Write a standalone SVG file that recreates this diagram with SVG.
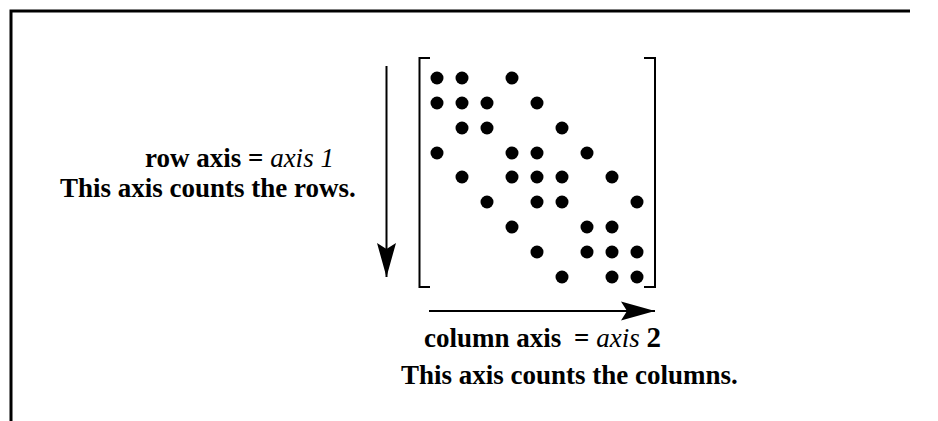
<svg xmlns="http://www.w3.org/2000/svg" width="938" height="421" viewBox="0 0 938 421">
<style>
.t{font-family:"Liberation Serif","Times New Roman",serif;font-size:27px;font-weight:bold;fill:#000}
.i{font-style:italic;font-weight:normal}
.ln{stroke:#000;fill:none}
.d circle{fill:#000;r:6.5px}
</style>
<defs>
<marker id="ah" markerUnits="userSpaceOnUse" markerWidth="36" markerHeight="22" viewBox="0 -11 36 22" refX="34" refY="0" orient="auto">
<path d="M0,-9.5 L34,0 L0,9.5 L6,0 Z" fill="#000"/>
</marker>
</defs>
<rect width="938" height="421" fill="#fff"/>
<g id="frame">
<path class="ln" d="M11,421 L11,11 L910,11" stroke-width="3"/>
</g>
<g id="matrix">
<path class="ln" stroke-width="2" d="M430,58 L419.5,58 L419.5,287 L430,287"/>
<path class="ln" stroke-width="2" d="M644,58 L655,58 L655,287 L644,287"/>
<g class="d">
<circle cx="437" cy="78" r="6.5"/><circle cx="462" cy="78" r="6.5"/><circle cx="512" cy="78" r="6.5"/>
<circle cx="437" cy="103" r="6.5"/><circle cx="462" cy="103" r="6.5"/><circle cx="487" cy="103" r="6.5"/><circle cx="537" cy="103" r="6.5"/>
<circle cx="462" cy="128" r="6.5"/><circle cx="487" cy="128" r="6.5"/><circle cx="562" cy="128" r="6.5"/>
<circle cx="437" cy="153" r="6.5"/><circle cx="512" cy="153" r="6.5"/><circle cx="537" cy="153" r="6.5"/><circle cx="587" cy="153" r="6.5"/>
<circle cx="462" cy="177" r="6.5"/><circle cx="512" cy="177" r="6.5"/><circle cx="537" cy="177" r="6.5"/><circle cx="562" cy="177" r="6.5"/><circle cx="612" cy="177" r="6.5"/>
<circle cx="487" cy="202" r="6.5"/><circle cx="537" cy="202" r="6.5"/><circle cx="562" cy="202" r="6.5"/><circle cx="637" cy="202" r="6.5"/>
<circle cx="512" cy="227" r="6.5"/><circle cx="587" cy="227" r="6.5"/><circle cx="612" cy="227" r="6.5"/>
<circle cx="537" cy="252" r="6.5"/><circle cx="587" cy="252" r="6.5"/><circle cx="612" cy="252" r="6.5"/><circle cx="637" cy="252" r="6.5"/>
<circle cx="562" cy="277" r="6.5"/><circle cx="612" cy="277" r="6.5"/><circle cx="637" cy="277" r="6.5"/>
</g>
</g>
<g id="connectors">
<line class="ln" x1="386.5" y1="66" x2="386.5" y2="277" stroke-width="2" marker-end="url(#ah)"/>
<line class="ln" x1="429" y1="311" x2="655" y2="311" stroke-width="2" marker-end="url(#ah)"/>
</g>
<g id="row-label">
<text class="t" x="145" y="167">row axis = <tspan class="i">axis 1</tspan></text>
<text class="t" x="60" y="197">This axis counts the rows.</text>
</g>
<g id="col-label">
<text class="t" x="424" y="347">column axis <tspan dx="6">=</tspan> <tspan class="i">axis</tspan> <tspan font-size="29">2</tspan></text>
<text class="t" x="401" y="384">This axis counts the columns.</text>
</g>
</svg>
